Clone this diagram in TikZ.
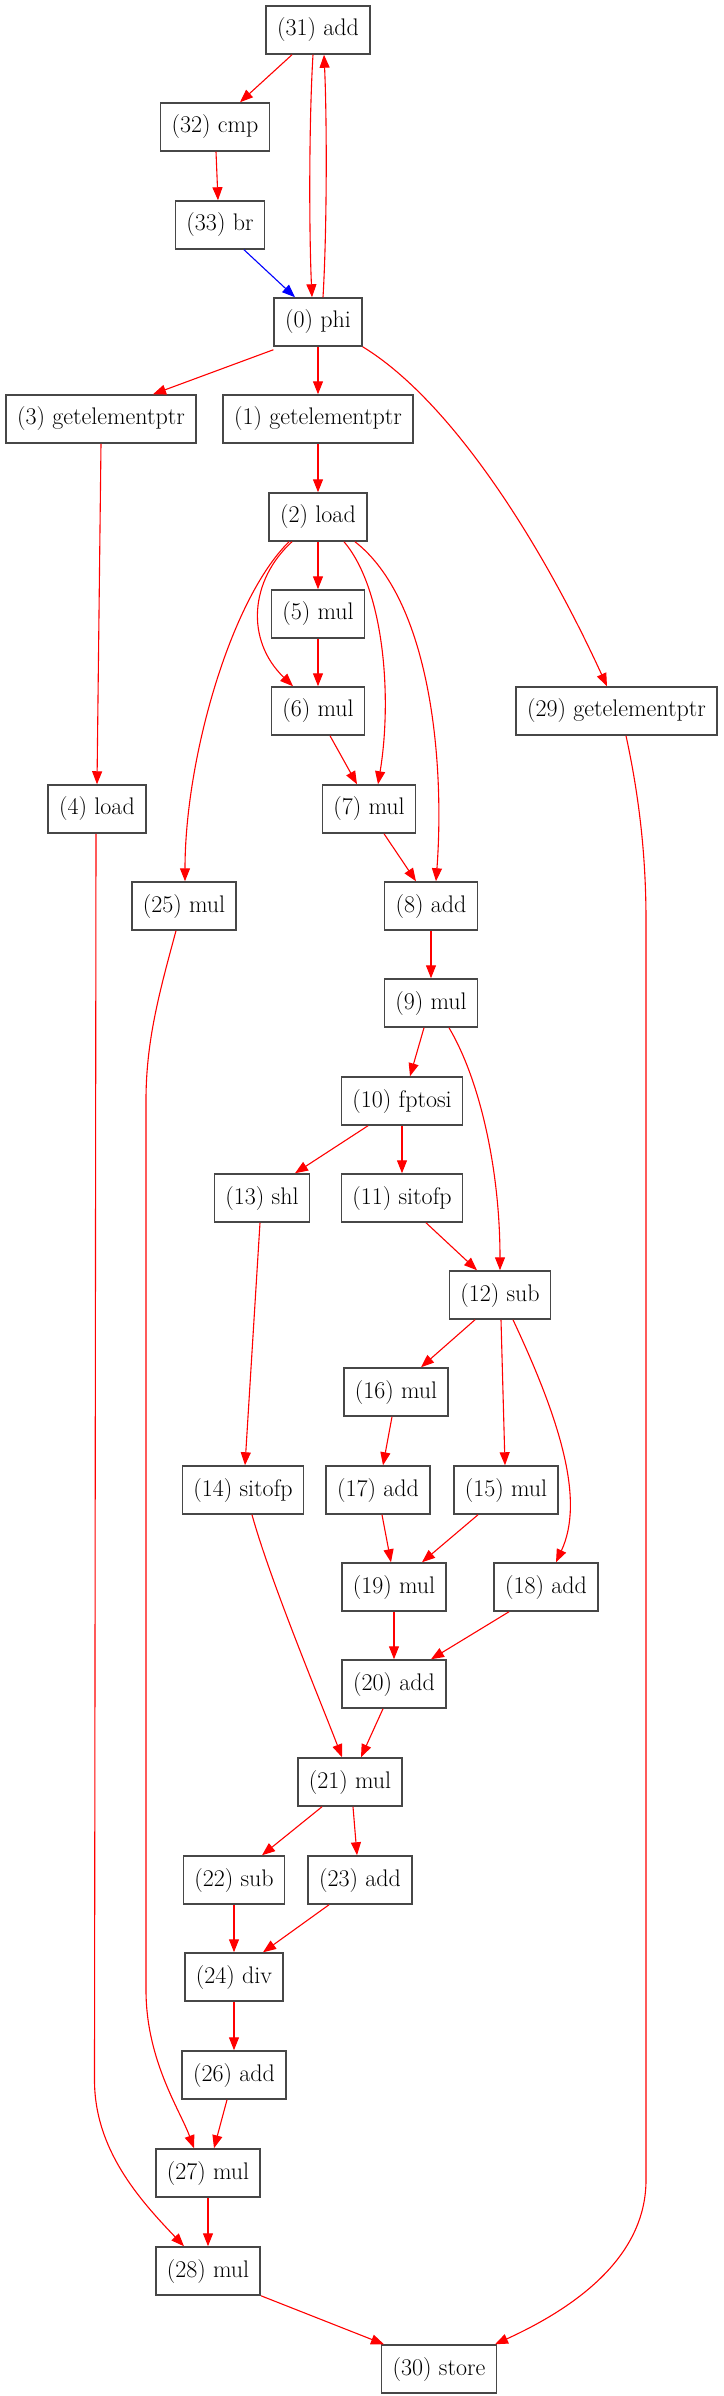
\documentclass[tikz,border=0pt]{standalone}
\usetikzlibrary{arrows.meta}
\begin{document}
\begin{tikzpicture}[x=1pt,y=-1pt,
  op/.style={draw=black!72, line width=1.5pt, rectangle, minimum height=48pt, inner xsep=11pt, inner ysep=0pt, font=\fontsize{24}{28}\selectfont, fill=white},
  dep/.style={draw=red, line width=1.1pt, -{Triangle[length=13pt,width=10pt]}},
  ctl/.style={draw=blue, line width=1.1pt, -{Triangle[length=13pt,width=10pt]}}]
\useasboundingbox (0,0) rectangle (723,2396);
\node[op] (n31) at (318,30) {(31) add};
\node[op] (n32) at (215,127) {(32) cmp};
\node[op] (n33) at (220,225) {(33) br};
\node[op] (n0) at (318,322) {(0) phi};
\node[op] (n3) at (101,419) {(3) getelementptr};
\node[op] (n1) at (318,419) {(1) getelementptr};
\node[op] (n2) at (318,517) {(2) load};
\node[op] (n5) at (318,614) {(5) mul};
\node[op] (n6) at (318,711) {(6) mul};
\node[op] (n29) at (616.5,711) {(29) getelementptr};
\node[op] (n4) at (97,809) {(4) load};
\node[op] (n7) at (369,809) {(7) mul};
\node[op] (n25) at (184,906) {(25) mul};
\node[op] (n8) at (431,906) {(8) add};
\node[op] (n9) at (431,1003) {(9) mul};
\node[op] (n10) at (402,1101) {(10) fptosi};
\node[op] (n13) at (262,1198) {(13) shl};
\node[op] (n11) at (402,1198) {(11) sitofp};
\node[op] (n12) at (500,1295) {(12) sub};
\node[op] (n16) at (396,1392) {(16) mul};
\node[op] (n14) at (243,1490) {(14) sitofp};
\node[op] (n17) at (378,1490) {(17) add};
\node[op] (n15) at (506,1490) {(15) mul};
\node[op] (n19) at (394,1587) {(19) mul};
\node[op] (n18) at (546,1587) {(18) add};
\node[op] (n20) at (394,1684) {(20) add};
\node[op] (n21) at (350,1782) {(21) mul};
\node[op] (n22) at (234,1880) {(22) sub};
\node[op] (n23) at (360,1880) {(23) add};
\node[op] (n24) at (234,1977) {(24) div};
\node[op] (n26) at (234,2075) {(26) add};
\node[op] (n27) at (208,2173) {(27) mul};
\node[op] (n28) at (208,2271) {(28) mul};
\node[op] (n30) at (439,2369) {(30) store};
% edges
\draw[dep] ([xshift=-26pt]n31.south) -- ([xshift=25pt]n32.north);
\draw[dep] ([xshift=-5pt]n31.south) .. controls (309,120) and (309,230) .. ([xshift=-6pt]n0.north);
\draw[dep] ([xshift=5pt]n0.north) .. controls (327,230) and (327,120) .. ([xshift=6pt]n31.south);
\draw[dep] ([xshift=1pt]n32.south) -- ([xshift=-2pt]n33.north);
\draw[ctl] ([xshift=24pt]n33.south) -- ([xshift=-23pt]n0.north);
\draw[dep] ([yshift=-3pt]n0.south west) -- ([xshift=52pt]n3.north);
\draw[dep] (n0.south) -- (n1.north);
\draw[dep] (n0.south east) .. controls (450,400) and (540,540) .. ([xshift=-9.5pt]n29.north);
\draw[dep] (n1.south) -- (n2.north);
\draw[dep] (n3.south) -- (n4.north);
\draw[dep] (n2.south) -- (n5.north);
\draw[dep] ([xshift=-26pt]n2.south) .. controls (250,580) and (245,640) .. ([xshift=-25pt]n6.north);
\draw[dep] ([xshift=-29pt]n2.south) .. controls (230,600) and (185,760) .. ([xshift=1pt]n25.north);
\draw[dep] ([xshift=26pt]n2.south) .. controls (385,590) and (392,700) .. ([xshift=9pt]n7.north);
\draw[dep] ([xshift=37pt]n2.south) .. controls (430,600) and (445,760) .. ([xshift=5pt]n8.north);
\draw[dep] (n5.south) -- (n6.north);
\draw[dep] ([xshift=12pt]n6.south) -- ([xshift=-12pt]n7.north);
\draw[dep] ([xshift=15pt]n7.south) -- ([xshift=-15pt]n8.north);
\draw[dep] (n8.south) -- (n9.north);
\draw[dep] ([xshift=-7pt]n9.south) -- ([xshift=8pt]n10.north);
\draw[dep] ([xshift=18pt]n9.south) .. controls (480,1080) and (500,1170) .. (n12.north);
\draw[dep] ([xshift=-34pt]n10.south) -- ([xshift=33pt]n13.north);
\draw[dep] (n10.south) -- (n11.north);
\draw[dep] ([xshift=24pt]n11.south) -- ([xshift=-23pt]n12.north);
\draw[dep] ([xshift=-2pt]n13.south) -- ([xshift=2pt]n14.north);
\draw[dep] ([xshift=-25pt]n12.south) -- ([xshift=25pt]n16.north);
\draw[dep] ([xshift=1pt]n12.south) -- ([xshift=-1pt]n15.north);
\draw[dep] ([xshift=13pt]n12.south) .. controls (560,1420) and (585,1500) .. ([xshift=10pt]n18.north);
\draw[dep] ([xshift=-4pt]n16.south) -- ([xshift=5pt]n17.north);
\draw[dep] ([xshift=4pt]n17.south) -- ([xshift=-3pt]n19.north);
\draw[dep] ([xshift=-28pt]n15.south) -- ([xshift=28pt]n19.north);
\draw[dep] (n19.south) -- (n20.north);
\draw[dep] ([xshift=-37pt]n18.south) -- ([xshift=37pt]n20.north);
\draw[dep] ([xshift=9pt]n14.south) .. controls (270,1580) and (320,1700) .. ([xshift=-8pt]n21.north);
\draw[dep] ([xshift=-11pt]n20.south) -- ([xshift=11pt]n21.north);
\draw[dep] ([xshift=-28pt]n21.south) -- ([xshift=28pt]n22.north);
\draw[dep] ([xshift=3pt]n21.south) -- ([xshift=-3pt]n23.north);
\draw[dep] (n22.south) -- (n24.north);
\draw[dep] ([xshift=-31pt]n23.south) -- ([xshift=29pt]n24.north);
\draw[dep] (n24.south) -- (n26.north);
\draw[dep] ([xshift=-7pt]n26.south) -- ([xshift=6pt]n27.north);
\draw[dep] ([xshift=-8pt]n25.south) .. controls (160,990) and (146,1040) .. (146,1100) -- (146,1990) .. controls (146,2060) and (180,2110) .. ([xshift=-14pt]n27.north);
\draw[dep] (n27.south) -- (n28.north);
\draw[dep] ([xshift=-1pt]n4.south) -- (94.5,2080) .. controls (94.5,2150) and (140,2200) .. ([xshift=-24pt]n28.north);
\draw[dep] (n28.south east) -- ([xshift=-55pt]n30.north);
\draw[dep] ([xshift=9.5pt]n29.south) .. controls (640,800) and (646,860) .. (646,920) -- (646,2180) .. controls (646,2260) and (570,2310) .. ([xshift=56pt]n30.north);
\end{tikzpicture}
\end{document}
